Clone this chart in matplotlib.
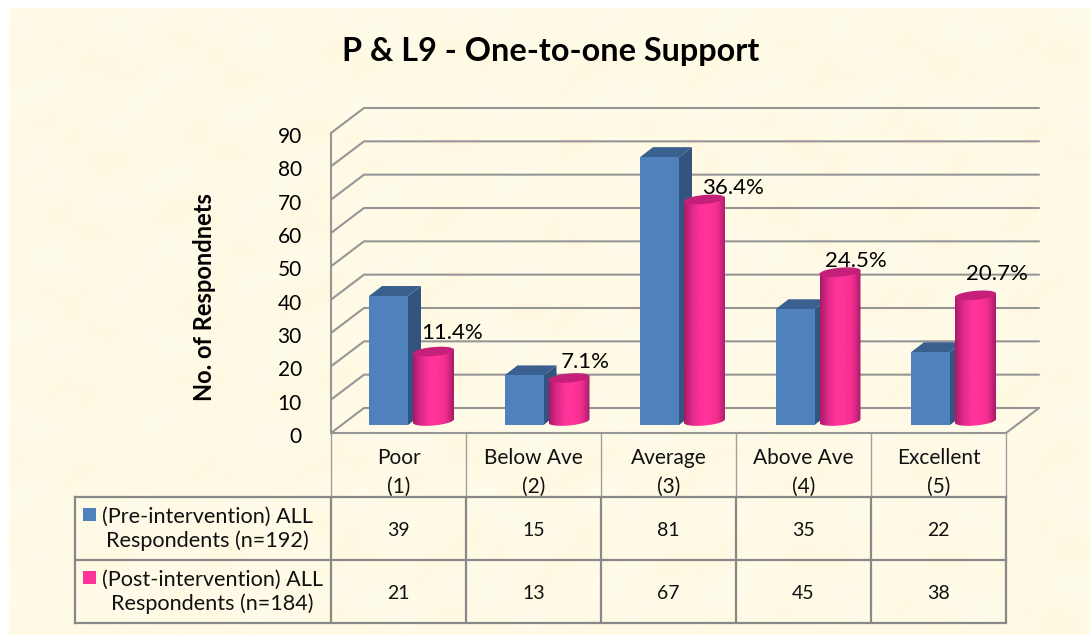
import numpy as np
import matplotlib
matplotlib.use("Agg")
import matplotlib.pyplot as plt
from matplotlib.colors import LinearSegmentedColormap
from matplotlib.patches import Polygon, Rectangle
from matplotlib.transforms import ScaledTranslation

# --- Data ---
categories = ["Poor\n(1)", "Below Ave\n(2)", "Average\n(3)", "Above Ave\n(4)", "Excellent\n(5)"]
pre_values = [39, 15, 81, 35, 22]
post_values = [21, 13, 67, 45, 38]
post_pct_labels = ["11.4%", "7.1%", "36.4%", "24.5%", "20.7%"]
series_names = ["(Pre-intervention) ALL\nRespondents (n=192)", "(Post-intervention) ALL\nRespondents (n=184)"]
y_ticks = list(range(0, 100, 10))

# --- Layout, in pixels ---
W, H = 1090, 635
PAPER_L, PAPER_T = 9, 8
PLOT_L, PLOT_R, PLOT_T, PLOT_B = 331, 1006, 133, 433
DEPTH_X, DEPTH_Y = 33, 25
TABLE_L = 75
ROW_LINES = [497, 560, 623]
NAME_X = [207, 212]
LABEL_NUDGE = [(19, 22), (16, 19), (28, 14), (16, 14), (21, 24)]
BAR_STEP = 135.5

PX_X = 5 / (PLOT_R - PLOT_L)    # data units per pixel, x
PX_Y = 90 / (PLOT_B - PLOT_T)   # data units per pixel, y
DEPTH_SCALE = 0.992             # columns stand behind the front plane, so they read a bit shorter

BLUE, BLUE_SIDE, BLUE_TOP = "#4F81BD", "#32547E", "#3A6090"
PINK, PINK_TOP = "#FF3399", "#C4207A"
GRID = "#969696"
TABLE_LINE = "#888888"
FONT = "Lato"

plt.rcParams["font.family"] = [FONT, "DejaVu Sans"]

fig = plt.figure(figsize=(W / 100, H / 100), dpi=100, facecolor="white")

# --- Parchment background, full figure in pixel coordinates ---
bg = fig.add_axes([0, 0, 1, 1], zorder=0)
yy, xx = np.mgrid[PAPER_T:H, PAPER_L:W]
mottle = (np.sin(xx / 19 + 1.3 * np.sin(yy / 15)) + np.sin(yy / 13 + 1.1 * np.sin(xx / 23))
          + 0.7 * np.sin((xx + yy) / 9 + np.sin(xx / 11))) / 2.7
paper = np.dstack([np.full(mottle.shape, 255.0), 250.5 + 1.2 * mottle, 230 + 4.5 * mottle]) / 255
bg.imshow(paper, extent=[PAPER_L, W, H, PAPER_T], aspect="auto", interpolation="bilinear")
bg.set_xlim(0, W)
bg.set_ylim(H, 0)
bg.axis("off")

# --- Table under the chart ---
col_lines = [PLOT_L + i * (PLOT_R - PLOT_L) / 5 for i in range(6)]
for x in col_lines:
    bg.plot([x, x], [PLOT_B, ROW_LINES[0]], color="#A0A0A0", lw=1.0, solid_capstyle="butt")
    bg.plot([x, x], [ROW_LINES[0], ROW_LINES[-1]], color=TABLE_LINE, lw=1.6, solid_capstyle="butt")
for y in ROW_LINES:
    bg.plot([TABLE_L, PLOT_R], [y, y], color=TABLE_LINE, lw=1.6, solid_capstyle="projecting")
bg.plot([TABLE_L, TABLE_L], [ROW_LINES[0], ROW_LINES[-1]], color=TABLE_LINE, lw=1.6)

for row, values in enumerate([pre_values, post_values]):
    yc = (ROW_LINES[row] + ROW_LINES[row + 1]) / 2
    for i, v in enumerate(values):
        bg.text((col_lines[i] + col_lines[i + 1]) / 2, yc + 2, str(v), ha="center", va="center",
                fontsize=14, color="#111111")
    bg.text(NAME_X[row], yc, series_names[row], ha="center", va="center", fontsize=15.6, color="#111111",
            linespacing=1.22)
    bg.add_patch(Rectangle((83, yc - 20.5), 13, 13, color=[BLUE, PINK][row], lw=0))

bg.text(551, 51, "P & L9 - One-to-one Support", ha="center", va="center",
        fontsize=23.3, fontweight="bold", color="black")
bg.text(205, 297, "No. of Respondnets", rotation=90, ha="center", va="center",
        fontsize=17, fontweight="bold", color="black")

# --- Chart axes: the front plane of the 3D box ---
ax = fig.add_axes([PLOT_L / W, 1 - PLOT_B / H, (PLOT_R - PLOT_L) / W, (PLOT_B - PLOT_T) / H],
                  facecolor="none", zorder=1)
ax.set_xlim(0, 5)
ax.set_ylim(0, 90)
for side in ax.spines.values():
    side.set_visible(False)

dx, dy = DEPTH_X * PX_X, DEPTH_Y * PX_Y
grid_kw = dict(color=GRID, lw=1.5, clip_on=False, zorder=1, solid_capstyle="round")
for t in y_ticks:
    ax.plot([0, dx, 5 + dx], [t, t + dy, t + dy], **grid_kw)
ax.plot([0, 0], [0, 90], **grid_kw)
ax.plot([0, 5, 5 + dx], [0, 0, dy], **grid_kw)

ax.set_yticks(y_ticks)
ax.set_xticks([i + 0.5 for i in range(5)])
ax.set_xticklabels(categories, fontsize=15, linespacing=1.55, color="#111111")
ax.tick_params(axis="x", length=0, pad=10.5)
ax.tick_params(axis="y", length=0, pad=21, labelsize=15)
# tick numbers sit a little below their gridlines
down = ScaledTranslation(0, -2 / 100, fig.dpi_scale_trans)
for lbl in ax.get_yticklabels():
    lbl.set_transform(lbl.get_transform() + down)

# --- Bars: front faces sit slightly behind the front plane ---
base = (PLOT_B - 425) * PX_Y
side_x, side_y = 13 * PX_X, 10 * PX_Y
pink_cmap = LinearSegmentedColormap.from_list(
    "cyl", ["#A81A68", "#E02A8A", PINK, PINK, "#F02E90", "#A81A68"])
gradient = np.linspace(0, 1, 128).reshape(1, -1)

for i in range(5):
    offset = i * BAR_STEP * PX_X

    # square blue column
    x0 = offset + 38 * PX_X
    x1 = x0 + 39 * PX_X
    height = pre_values[i] * DEPTH_SCALE
    top = base + height
    ax.add_patch(Polygon([(x1, base), (x1 + side_x, base + side_y), (x1 + side_x, top + side_y), (x1, top)],
                         color=BLUE_SIDE, lw=0, zorder=3, clip_on=False))
    ax.add_patch(Polygon([(x0, top), (x0 + side_x, top + side_y), (x1 + side_x, top + side_y), (x1, top)],
                         color=BLUE_TOP, lw=0, zorder=3, clip_on=False))
    ax.bar(x0, height, width=x1 - x0, bottom=base, align="edge", color=BLUE, zorder=4, clip_on=False)

    # pink cylinder with a slightly tilted ellipse at each end
    cx = offset + 102.5 * PX_X
    rx = 20.5 * PX_X
    ry = 4.5 * PX_Y
    tilt = 1.8 * PX_Y
    floor = (PLOT_B - 421) * PX_Y
    ctop = floor + post_values[i] * DEPTH_SCALE
    t = np.linspace(0, 2 * np.pi, 80)
    ex = rx * np.cos(t)
    ey = ry * np.sin(t) + tilt * np.cos(t)
    lower = t >= np.pi
    body_x = np.r_[cx - rx, cx + ex[lower], cx + rx]
    body_y = np.r_[ctop - tilt, floor + ey[lower], ctop + tilt]
    body = Polygon(np.c_[body_x, body_y], transform=ax.transData, facecolor="none", lw=0)
    ax.add_patch(body)
    im = ax.imshow(gradient, cmap=pink_cmap, extent=[cx - rx, cx + rx, floor - ry - 2, ctop + ry],
                   aspect="auto", zorder=5)
    im.set_clip_path(body)
    ax.add_patch(Polygon(np.c_[cx + ex, ctop + ey], color=PINK_TOP, lw=0, zorder=6, clip_on=False))

    nudge_x, nudge_y = LABEL_NUDGE[i]
    ax.text(cx + nudge_x * PX_X, ctop + (nudge_y - 3) * PX_Y, post_pct_labels[i], ha="center", va="center",
            fontsize=16, color="black", zorder=7, clip_on=False)

# imshow resets the view limits
ax.set_xlim(0, 5)
ax.set_ylim(0, 90)

fig.savefig("out.png", dpi=100)
